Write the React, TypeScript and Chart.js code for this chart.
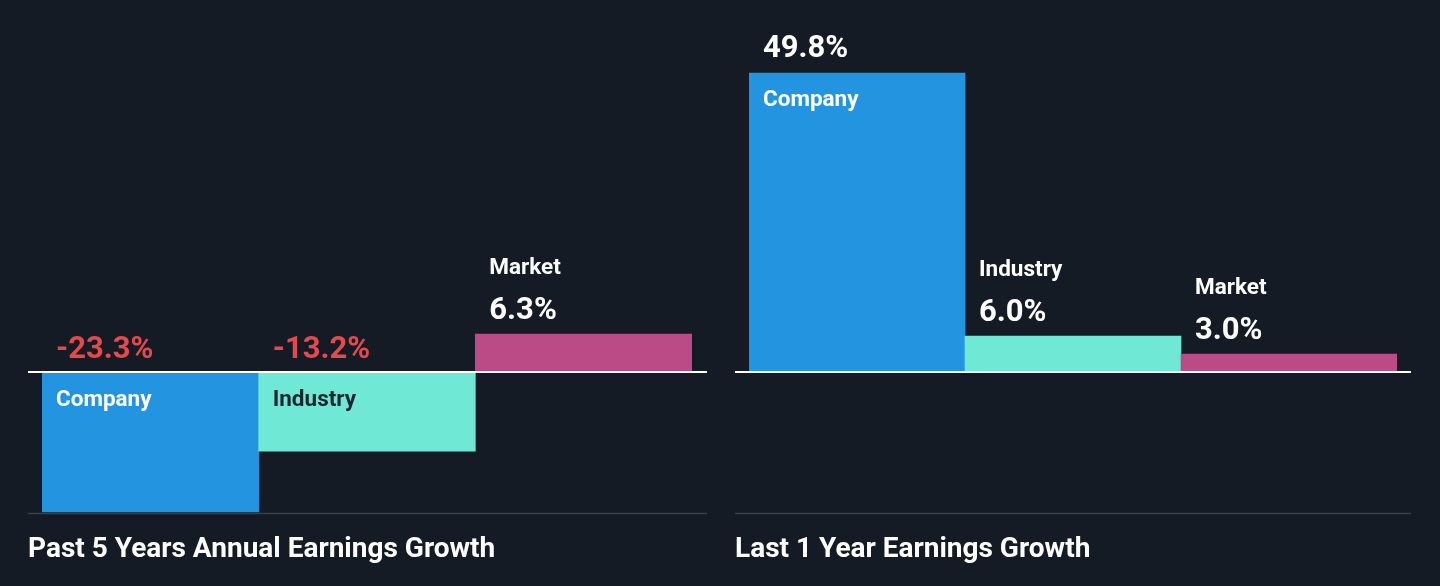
import React, { useEffect, useRef } from "react";
import { Chart, registerables } from "chart.js";

Chart.register(...registerables);

const categories = ["Company", "Industry", "Market"];
const past5Values = [-23.3, -13.2, 6.3];
const last1Values = [49.8, 6.0, 3.0];
const panelTitles = ["Past 5 Years Annual Earnings Growth", "Last 1 Year Earnings Growth"];

const BG = "#151b24";
const barColors = ["#2394df", "#6fe8d6", "#bb4b87"];
const nameColors = ["#ffffff", "#1c2632", "#ffffff"];
const NEG = "#e5484d";
const FONT = "Roboto, 'Noto Sans', sans-serif";
const VALUE_FONT = `bold 31px ${FONT}`;
const NAME_FONT = `bold 22.5px ${FONT}`;
const TITLE_FONT = `bold 28px ${FONT}`;

function fmt(v: number) {
  return v.toFixed(1) + "%";
}

const labelPlugin = {
  id: "panelLabels",
  afterDatasetsDraw(chart: any, _args: any, opts: any) {
    const ctx = chart.ctx;
    const meta = chart.getDatasetMeta(0);
    const yScale = chart.scales.y;
    const zeroY = yScale.getPixelForValue(0);
    const bottom = chart.chartArea.bottom;
    const w = chart.width;
    ctx.save();
    ctx.strokeStyle = "#3b414a";
    ctx.lineWidth = 1.5;
    ctx.beginPath();
    ctx.moveTo(0, bottom + 0.5);
    ctx.lineTo(w, bottom + 0.5);
    ctx.stroke();
    ctx.strokeStyle = "#ffffff";
    ctx.lineWidth = 2;
    ctx.beginPath();
    ctx.moveTo(0, zeroY);
    ctx.lineTo(w, zeroY);
    ctx.stroke();

    const values: number[] = chart.data.datasets[0].data;
    ctx.textBaseline = "middle";
    ctx.textAlign = "left";
    meta.data.forEach((bar: any, i: number) => {
      const v = values[i];
      const x = bar.x - bar.width / 2 + 14;
      const top = Math.min(bar.y, bar.base);
      const h = Math.abs(bar.base - bar.y);
      if (v < 0) {
        ctx.font = VALUE_FONT;
        ctx.fillStyle = NEG;
        ctx.fillText(fmt(v), x, zeroY - 22);
        ctx.font = NAME_FONT;
        ctx.fillStyle = nameColors[i];
        ctx.fillText(categories[i], x, zeroY + 28);
      } else if (h > 60) {
        ctx.font = VALUE_FONT;
        ctx.fillStyle = "#ffffff";
        ctx.fillText(fmt(v), x, top - 24);
        ctx.font = NAME_FONT;
        ctx.fillStyle = nameColors[i];
        ctx.fillText(categories[i], x, top + 27);
      } else {
        ctx.font = VALUE_FONT;
        ctx.fillStyle = "#ffffff";
        ctx.fillText(fmt(v), x, top - 23);
        ctx.font = NAME_FONT;
        ctx.fillStyle = "#ffffff";
        ctx.fillText(categories[i], x, top - 66);
      }
    });

    ctx.font = TITLE_FONT;
    ctx.fillStyle = "#ffffff";
    ctx.fillText(opts.title, 0, 550);
    ctx.restore();
  },
};

function Panel({ values, title, left, width, padL, padR }: any) {
  const ref = useRef<HTMLCanvasElement>(null);
  useEffect(() => {
    const chart = new Chart(ref.current!, {
      type: "bar",
      data: {
        labels: categories,
        datasets: [
          {
            data: values,
            backgroundColor: barColors,
            borderWidth: 0,
            barPercentage: 1,
            categoryPercentage: 1,
          },
        ],
      },
      options: {
        animation: false,
        responsive: true,
        maintainAspectRatio: false,
        layout: { padding: { top: 12, bottom: 73, left: padL, right: padR } },
        scales: {
          x: { display: false },
          y: { display: false, min: -23.5, max: 60 },
        },
        plugins: {
          legend: { display: false },
          tooltip: { enabled: false },
          panelLabels: { title },
        } as any,
      },
      plugins: [labelPlugin],
    });
    return () => chart.destroy();
  }, []);
  return (
    <div style={{ position: "absolute", left, top: 0, width, height: 586 }}>
      <canvas ref={ref} />
    </div>
  );
}

export default function App() {
  return (
    <div
      style={{
        position: "absolute",
        left: 0,
        top: 0,
        width: 1440,
        height: 586,
        background: BG,
        overflow: "hidden",
      }}
    >
      <Panel values={past5Values} title={panelTitles[0]} left={28} width={679} padL={14} padR={15} />
      <Panel values={last1Values} title={panelTitles[1]} left={735} width={676} padL={14} padR={14} />
    </div>
  );
}
